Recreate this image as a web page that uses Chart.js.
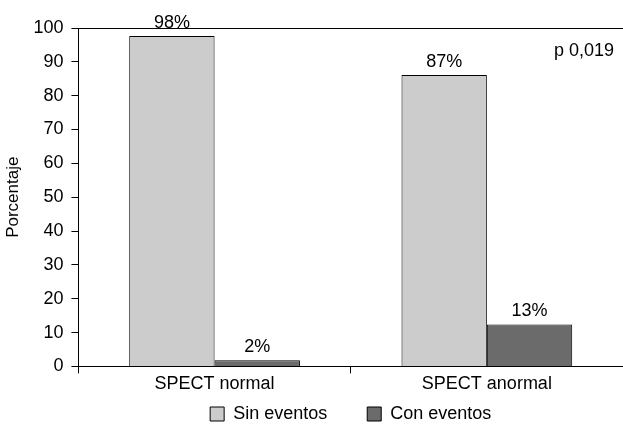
<!DOCTYPE html>
<html>
<head>
<meta charset="utf-8">
<script src="https://cdn.jsdelivr.net/npm/chart.js@4/dist/chart.umd.min.js"></script>
<style>
  html, body { margin: 0; padding: 0; background: #fff; }
  #wrap { width: 623px; height: 426px; }
</style>
</head>
<body>
<div id="wrap"><canvas id="chart"></canvas></div>
<script>
// data
const categories = ['SPECT normal', 'SPECT anormal'];
const seriesNames = ['Sin eventos', 'Con eventos'];
const sinEventos = [97.6, 86.1];
const conEventos = [1.8, 12.4];
const sinLabels = ['98%', '87%'];
const conLabels = ['2%', '13%'];
const yTicks = [0, 10, 20, 30, 40, 50, 60, 70, 80, 90, 100];
const pValue = 'p 0,019';

const FONT = 'Liberation Sans, Arial, Helvetica, sans-serif';

// draws the % above each bar and the p value
const barLabels = {
    id: 'barLabels',
    afterDatasetsDraw(chart) {
        const ctx = chart.ctx;
        const labelSets = [sinLabels, conLabels];
        ctx.save();
        ctx.fillStyle = '#000';
        ctx.font = '18px ' + FONT;
        ctx.textAlign = 'center';
        ctx.textBaseline = 'alphabetic';
        chart.data.datasets.forEach((ds, i) => {
            chart.getDatasetMeta(i).data.forEach((bar, j) => {
                ctx.fillText(labelSets[i][j], bar.x, bar.y - 8);
            });
        });
        const area = chart.chartArea;
        ctx.textAlign = 'right';
        ctx.fillText(pValue, area.right - 9, area.top + 28);
        ctx.restore();
    }
};

const canvas = document.getElementById('chart');
new Chart(canvas, {
    type: 'bar',
    data: {
        labels: categories,
        datasets: [
            {
                label: seriesNames[0],
                data: sinEventos,
                backgroundColor: '#cccccc',
                borderColor: '#000',
                borderWidth: 1,
                categoryPercentage: 0.627,
                barPercentage: 1
            },
            {
                label: seriesNames[1],
                data: conEventos,
                backgroundColor: '#6b6b6b',
                borderColor: '#000',
                borderWidth: 1,
                categoryPercentage: 0.627,
                barPercentage: 1
            }
        ]
    },
    options: {
        responsive: true,
        maintainAspectRatio: false,
        animation: false,
        layout: {
            padding: { top: 28, right: 0, left: 1, bottom: -7 }
        },
        plugins: {
            legend: {
                position: 'bottom',
                fullSize: false,
                labels: {
                    color: '#000',
                    font: { family: FONT, size: 18 },
                    boxWidth: 14,
                    boxHeight: 14,
                    padding: 10,
                    // widen the gap between the two entries
                    generateLabels: (chart) => {
                        const items = Chart.defaults.plugins.legend.labels.generateLabels(chart);
                        items[0].text = items[0].text + '      ';
                        items.forEach(it => { it.lineWidth = 1; it.strokeStyle = '#000'; });
                        return items;
                    }
                }
            },
            tooltip: { enabled: false }
        },
        scales: {
            x: {
                grid: {
                    offset: true,
                    drawOnChartArea: false,
                    tickLength: 7,
                    tickColor: '#000'
                },
                border: { color: '#000', width: 1 },
                ticks: {
                    color: '#000',
                    font: { family: FONT, size: 18 },
                    padding: 0
                }
            },
            y: {
                min: 0,
                max: 100,
                afterBuildTicks: (axis) => {
                    axis.ticks = yTicks.map(v => ({ value: v }));
                },
                grid: {
                    color: (c) => (c.tick && c.tick.value === 100 ? '#000' : 'rgba(0,0,0,0)'),
                    tickLength: 7,
                    tickColor: '#000'
                },
                border: { color: '#000', width: 1 },
                ticks: {
                    color: '#000',
                    font: { family: FONT, size: 18 },
                    padding: 8
                },
                title: {
                    display: true,
                    text: 'Porcentaje',
                    color: '#000',
                    font: { family: FONT, size: 17 },
                    padding: 2
                }
            }
        }
    },
    plugins: [barLabels]
});
</script>
</body>
</html>
